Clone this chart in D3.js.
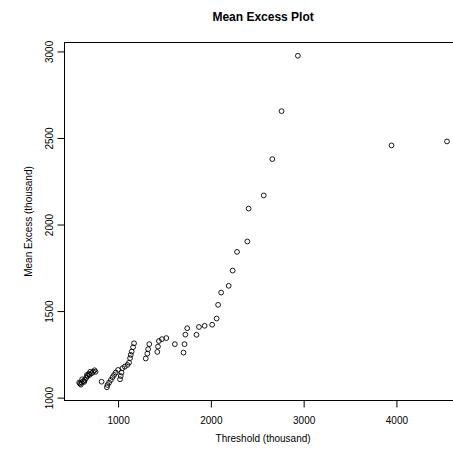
<!DOCTYPE html>
<html>
<head>
<meta charset="utf-8">
<script src="https://cdn.jsdelivr.net/npm/d3@7"></script>
<style>
  html, body { margin: 0; padding: 0; background: #fff; }
  svg text { font-family: "Liberation Sans", Arial, Helvetica, sans-serif; fill: #000; }
</style>
</head>
<body>
<svg id="chart"></svg>
<script>
// threshold (thousand)
const thresholds = [
  581, 589, 599, 607, 613, 624, 635, 642, 656, 664, 671, 685, 693, 699, 717, 731, 746, 757,
  822,
  879, 886, 903, 922, 940, 957, 975, 1000, 1021, 1029, 1037, 1047, 1072, 1101, 1118, 1129,
  1136, 1147, 1161, 1172,
  1298, 1315, 1324, 1336, 1423, 1430, 1440, 1472, 1520, 1612, 1705, 1716, 1725, 1745,
  1845, 1872, 1933, 2014, 2062, 2078, 2111, 2192, 2235, 2282, 2393, 2407, 2570, 2662,
  2762, 2938, 3947, 4545,
];

// mean excess (thousand)
const meanExcess = [
  1087, 1081, 1075, 1087, 1106, 1095, 1091, 1102, 1114, 1131, 1125, 1137, 1131, 1149, 1141, 1149, 1158, 1149,
  1092,
  1060, 1073, 1087, 1102, 1118, 1131, 1145, 1160, 1106, 1125, 1145, 1170, 1179, 1189, 1202, 1228,
  1247, 1266, 1291, 1314,
  1226, 1254, 1280, 1309, 1264, 1295, 1327, 1338, 1344, 1309, 1260, 1309, 1364, 1401,
  1363, 1408, 1415, 1421, 1457, 1536, 1607, 1646, 1734, 1842, 1902, 2092, 2168, 2378,
  2655, 2975, 2457, 2480,
];

const xTicks = [1000, 2000, 3000, 4000];
const yTicks = [1000, 1500, 2000, 2500, 3000];

const W = 453;
const H = 455;

const svg = d3.select('#chart').attr('width', W).attr('height', H);

//
// Plot region (R style: 4% padding around data range)
//

const plot = { left: 64.5, top: 42.5, right: 461.7, bottom: 400.5 };

const xExt = d3.extent(thresholds);
const yExt = d3.extent(meanExcess);
const xPad = (xExt[1] - xExt[0]) * 0.04;
const yPad = (yExt[1] - yExt[0]) * 0.04;

const x = d3.scaleLinear()
  .domain([xExt[0] - xPad, xExt[1] + xPad])
  .range([plot.left, plot.right]);

const y = d3.scaleLinear()
  .domain([yExt[0] - yPad, yExt[1] + yPad])
  .range([plot.bottom, plot.top]);

//
// Box
//

svg.append('rect')
  .attr('x', plot.left)
  .attr('y', plot.top)
  .attr('width', plot.right - plot.left)
  .attr('height', plot.bottom - plot.top)
  .attr('fill', 'none')
  .attr('stroke', '#000')
  .attr('stroke-width', 1);

//
// X axis
//

const xAxis = svg.append('g')
  .attr('transform', `translate(0, ${plot.bottom})`)
  .call(d3.axisBottom(x).tickValues(xTicks).tickSize(7).tickPadding(9).tickFormat(d3.format('d')));

xAxis.select('.domain').remove();
xAxis.selectAll('line').attr('stroke', '#000');
xAxis.selectAll('text').attr('font-size', 10).attr('fill', '#000');

//
// Y axis
//

const yAxis = svg.append('g')
  .attr('transform', `translate(${plot.left}, 0)`)
  .call(d3.axisLeft(y).tickValues(yTicks).tickSize(7).tickFormat(d3.format('d')));

yAxis.select('.domain').remove();
yAxis.selectAll('line').attr('stroke', '#000');
yAxis.selectAll('text').remove();

yAxis.selectAll('.tick')
  .append('text')
  .attr('transform', 'translate(-12, 0) rotate(-90)')
  .attr('text-anchor', 'middle')
  .attr('font-size', 10)
  .text((d) => d);

//
// Points
//

const pts = thresholds.map((t, i) => ({ t, m: meanExcess[i] }));

svg.append('g')
  .selectAll('circle')
  .data(pts)
  .join('circle')
  .attr('cx', (d) => x(d.t))
  .attr('cy', (d) => y(d.m))
  .attr('r', 2.4)
  .attr('fill', 'none')
  .attr('stroke', '#000')
  .attr('stroke-width', 0.9);

//
// Titles
//

const midX = (plot.left + plot.right) / 2;
const midY = (plot.top + plot.bottom) / 2;

svg.append('text')
  .attr('x', midX)
  .attr('y', 21)
  .attr('text-anchor', 'middle')
  .attr('font-size', 12)
  .attr('font-weight', 'bold')
  .text('Mean Excess Plot');

svg.append('text')
  .attr('x', midX)
  .attr('y', 442)
  .attr('text-anchor', 'middle')
  .attr('font-size', 10)
  .text('Threshold (thousand)');

svg.append('text')
  .attr('transform', `translate(32, ${midY}) rotate(-90)`)
  .attr('text-anchor', 'middle')
  .attr('font-size', 10)
  .text('Mean Excess (thousand)');
</script>
</body>
</html>
